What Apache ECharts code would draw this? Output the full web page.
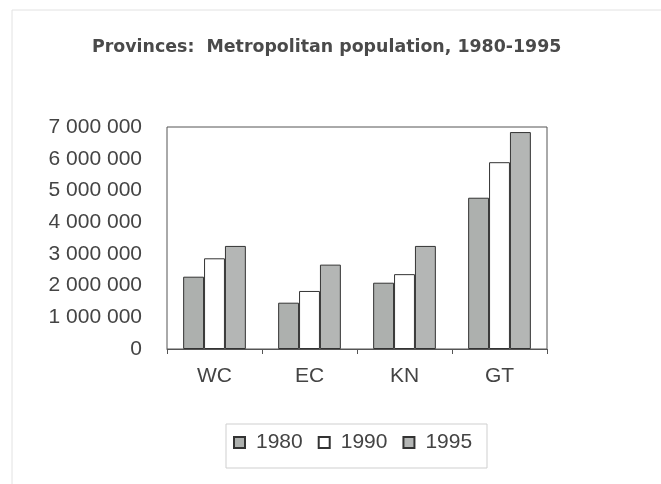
<!DOCTYPE html>
<html><head><meta charset="utf-8">
<script src="https://cdn.jsdelivr.net/npm/echarts@6/dist/echarts.min.js"></script>
<style>html,body{margin:0;padding:0;background:#fff}#c{width:661px;height:484px}</style>
</head><body><div id="c"></div>
<script>
var categories = ['WC', 'EC', 'KN', 'GT'];
var seriesNames = ['1980', '1990', '1995'];
var values1980 = [2280000, 1460000, 2090000, 4770000];
var values1990 = [2860000, 1830000, 2360000, 5890000];
var values1995 = [3250000, 2660000, 3250000, 6840000];
var yTicks = [0, 1000000, 2000000, 3000000, 4000000, 5000000, 6000000, 7000000];

var chart = echarts.init(document.getElementById('c'), null, {renderer: 'canvas'});
var font = 'Liberation Sans, Arial, sans-serif';
function fmt(v) { return String(v).replace(/\B(?=(\d{3})+(?!\d))/g, ' '); }
var colors = ['#adb0ae', '#ffffff', '#b4b6b5'];
var vals = [values1980, values1990, values1995];
chart.setOption({
  backgroundColor: '#ffffff',
  animation: false,
  title: {
    text: 'Provinces:  Metropolitan population, 1980-1995',
    left: 92, top: 39, padding: 0,
    textStyle: {fontFamily: 'DejaVu Sans, sans-serif', fontSize: 17.4, fontWeight: 'bold', color: '#4a4a4a'}
  },
  graphic: [
    {type: 'rect', shape: {x: 12, y: 10, width: 680, height: 500}, style: {fill: 'none', stroke: '#e2e2e2', lineWidth: 1}, silent: true},
    {type: 'rect', shape: {x: 226, y: 424, width: 261, height: 44}, style: {fill: 'none', stroke: '#cfcfcf', lineWidth: 1}, silent: true}
  ],
  legend: {
    left: 233, top: 432, padding: 0,
    itemWidth: 11, itemHeight: 11, itemGap: 15,
    icon: 'rect',
    data: seriesNames,
    textStyle: {fontFamily: font, fontSize: 21, color: '#444', padding: [0, 0, 0, 6]}
  },
  grid: {left: 167, right: 114, top: 127, bottom: 135, show: true, borderColor: '#555', borderWidth: 1, backgroundColor: 'transparent'},
  xAxis: {
    type: 'category', data: categories,
    axisLine: {show: true, lineStyle: {color: '#555', width: 1}},
    axisTick: {show: true, length: 5, lineStyle: {color: '#555'}},
    axisLabel: {fontFamily: font, fontSize: 21, color: '#444', margin: 17}
  },
  yAxis: {
    type: 'value', min: 0, max: 7000000, interval: 1000000,
    axisLine: {show: false}, axisTick: {show: false},
    splitLine: {show: false},
    axisLabel: {fontFamily: font, fontSize: 21, color: '#444', margin: 25, formatter: function (v) { return fmt(v); }}
  },
  series: seriesNames.map(function (n, i) {
    return {
      name: n, type: 'bar', data: vals[i],
      barGap: '0%', barCategoryGap: '34%',
      itemStyle: {color: colors[i], borderColor: '#333', borderWidth: 1}
    };
  })
});
</script></body></html>
